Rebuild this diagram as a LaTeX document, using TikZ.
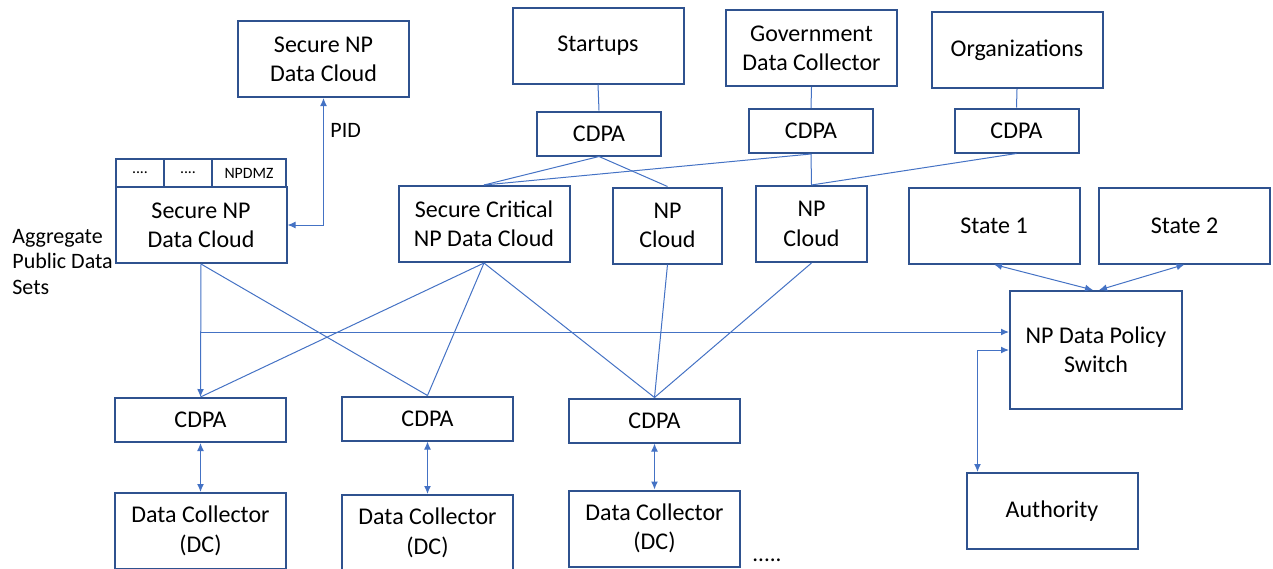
\documentclass[tikz,border=0pt]{standalone}
\usepackage{fontspec}
\setmainfont{Carlito}
\usetikzlibrary{arrows.meta}
\definecolor{boxblue}{HTML}{2F528F}
\definecolor{linkblue}{HTML}{4472C4}

\begin{document}
\begin{tikzpicture}[x=0.5pt,y=-0.5pt,
  main node/.style={rectangle,draw=boxblue,line width=1pt,inner sep=0pt,align=center,
    font=\fontsize{12}{14.7}\selectfont,minimum width=85.5pt,minimum height=38pt},
  agent node/.style={main node,minimum width=62pt,minimum height=22pt},
  cell node/.style={main node,font=\fontsize{7.9}{9}\selectfont,minimum height=14pt},
  label node/.style={font=\fontsize{11}{12.75}\selectfont,inner sep=0pt,align=left},
  link/.style={draw=linkblue,line width=0.5pt},
  arrow/.style={link,-{Latex[length=4pt,width=3.4pt]}},
  both/.style={link,{Latex[length=4pt,width=3.4pt]}-{Latex[length=4pt,width=3.4pt]}}]

  \useasboundingbox (0,0) rectangle (1273,568);

  % upper row
  \node[main node] (0) at (323.5,59){Secure NP\\Data Cloud};
  \node[main node] (3) at (598,45.5){Startups};
  \node[main node] (5) at (811.5,48){Government\\Data Collector};
  \node[main node] (7) at (1017,50){Organizations};
  \node[agent node] (4) at (599,133.5){CDPA};
  \node[agent node] (6) at (811,131){CDPA};
  \node[agent node] (8) at (1016.5,130.5){CDPA};

  % clouds
  \node[cell node,minimum width=24pt] (1a) at (140,173){....};
  \node[cell node,minimum width=24pt] (1b) at (188,173){....};
  \node[cell node,minimum width=37pt] (1c) at (249,173){NPDMZ};
  \node[main node] (2) at (201,225){Secure NP\\Data Cloud};
  \node[main node] (9) at (484,224){Secure Critical\\NP Data Cloud};
  \node[main node,minimum width=54.5pt] (10) at (667.5,225.5){NP\\Cloud};
  \node[main node,minimum width=55.5pt] (11) at (811.5,224){NP\\Cloud};
  \node[main node] (12) at (994,225.5){State 1};
  \node[main node] (13) at (1184.5,225.5){State 2};
  \node[main node,minimum width=86pt,minimum height=59pt] (14) at (1096,350){NP Data Policy\\Switch};
  \node[main node] (15) at (1052,511){Authority};

  % collectors
  \node[agent node,minimum width=85.5pt] (16) at (200.5,420){CDPA};
  \node[agent node,minimum width=85.5pt] (17) at (427.5,418.5){CDPA};
  \node[agent node,minimum width=85.5pt] (18) at (654.5,420.5){CDPA};
  \node[main node] (19) at (200.5,531){Data Collector\\(DC)};
  \node[main node] (20) at (427.5,533){Data Collector\\(DC)};
  \node[main node] (21) at (654.5,528.5){Data Collector\\(DC)};

  \node[label node,anchor=west] (pid) at (330,130){PID};
  \node[label node,anchor=west] (agg) at (12,262){Aggregate\\Public Data\\Sets};
  \node[label node,font=\fontsize{11.5}{12}\selectfont,anchor=west] (more) at (752,560){.....};

  \path[link]
   (3.south) edge (4.north)
   (5.south) edge (6.north)
   (7.south) edge (8.north)
   (4.south) edge (9.north)
   (4.south) edge (10.north)
   (6.south) edge (9.north)
   (6.south) edge (11.north)
   (8.south) edge (11.north)
   (2.south) edge (17.north)
   (9.south) edge (16.north)
   (9.south) edge (17.north)
   (9.south) edge (18.north)
   (10.south) edge (18.north)
   (11.south) edge (18.north);

  \draw[arrow] (2.south) -- (16.north);
  \coordinate (tap) at (201,332);
  \draw[arrow] (tap) -- (tap -| 14.west);
  \draw[both] (0.south) |- (2.east);
  \draw[both] (12.south) -- ([xshift=-1.5pt]14.north);
  \draw[both] (13.south) -- ([xshift=1.5pt]14.north);
  \draw[both] (14.west) -| ([xshift=6pt]15.north west);
  \draw[both] (16.south) -- (19.north);
  \draw[both] (17.south) -- (20.north);
  \draw[both] (18.south) -- (21.north);
\end{tikzpicture}
\end{document}
